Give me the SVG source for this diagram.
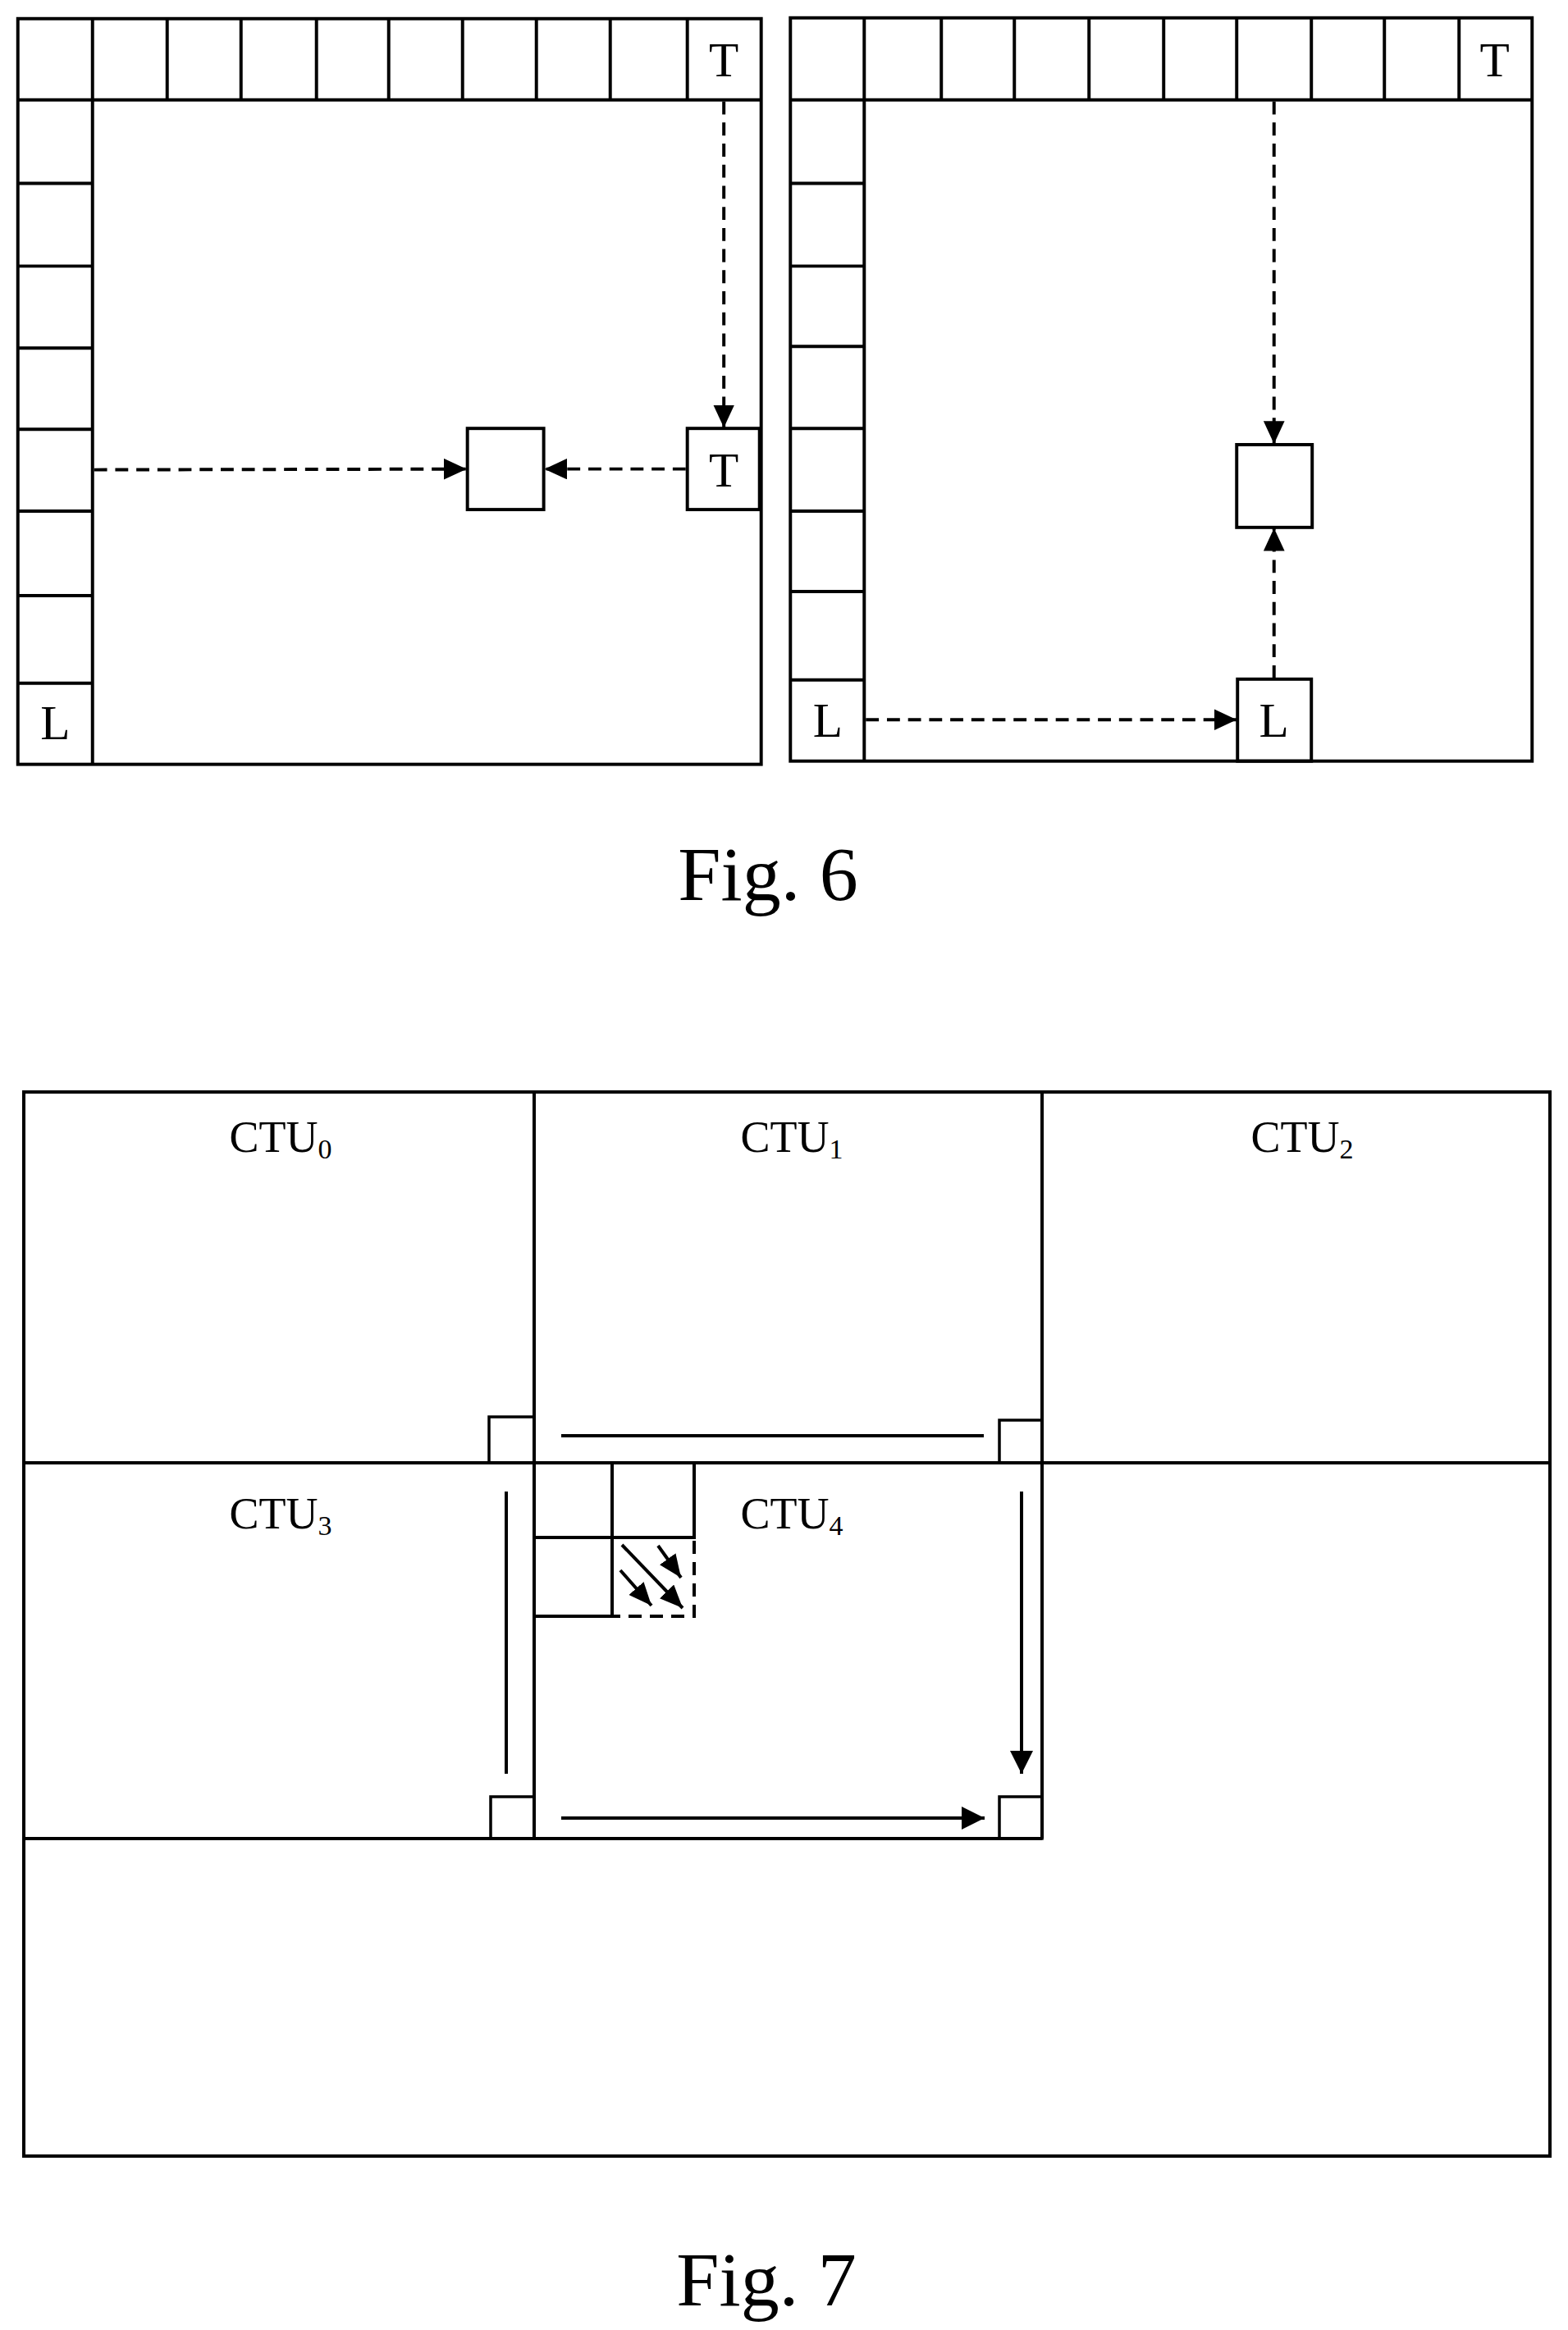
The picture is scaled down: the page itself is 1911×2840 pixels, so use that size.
<svg xmlns="http://www.w3.org/2000/svg" width="1911" height="2840" viewBox="0 0 1911 2840">
<style>
.b{fill:none;stroke:#000;stroke-width:4}
.t{fill:none;stroke:#000;stroke-width:3.5}
.d{fill:none;stroke:#000;stroke-width:4;stroke-dasharray:16 10}
.lb{font-family:"Liberation Serif",serif;font-size:60px;text-anchor:middle;fill:#000}
.ct{font-family:"Liberation Serif",serif;font-size:54px;text-anchor:middle;fill:#000}
.fg{font-family:"Liberation Serif",serif;font-size:94px;text-anchor:middle;fill:#000}
</style>
<defs>
<marker id="a" markerUnits="userSpaceOnUse" markerWidth="30" markerHeight="26" refX="28" refY="13" orient="auto"><path d="M0,0 L28,13 L0,26 Z" fill="#000"/></marker>
<marker id="s" markerUnits="userSpaceOnUse" markerWidth="30" markerHeight="28" refX="28" refY="14" orient="auto"><path d="M0,0 L28,14 L0,28 Z" fill="#000"/></marker>
<marker id="k" markerUnits="userSpaceOnUse" markerWidth="30" markerHeight="24" refX="28" refY="12" orient="auto"><path d="M0,0 L28,12 L0,24 Z" fill="#000"/></marker>
</defs>
<rect width="1911" height="2840" fill="#fff"/>
<g transform="scale(0.989)">
<g id="fig6-left">
<rect class="b" x="22" y="23" width="916" height="919"/>
<path class="b" d="M22,123 H938 M114,23 V942 M206,23 V123 M297,23 V123 M390,23 V123 M479,23 V123 M570,23 V123 M661,23 V123 M752,23 V123 M847,23 V123 M22,226 H114 M22,328 H114 M22,429 H114 M22,529 H114 M22,630 H114 M22,734 H114 M22,842 H114"/>
<rect id="l-cur" class="b" x="576" y="528" width="94" height="100"/>
<rect id="l-T2" class="b" x="847" y="528" width="89" height="100"/>
<text class="lb" x="892" y="94">T</text>
<text class="lb" x="892" y="600">T</text>
<text class="lb" x="68" y="911">L</text>
</g>
<g id="fig6-right">
<rect class="b" x="974" y="22" width="914" height="916"/>
<path class="b" d="M974,123 H1888 M1065,22 V938 M1160,22 V123 M1250,22 V123 M1342,22 V123 M1434,22 V123 M1524,22 V123 M1616,22 V123 M1706,22 V123 M1798,22 V123 M974,226 H1065 M974,328 H1065 M974,427 H1065 M974,528 H1065 M974,630 H1065 M974,729 H1065 M974,838 H1065"/>
<rect id="r-cur" class="b" x="1524" y="548" width="93" height="102"/>
<rect id="r-L2" class="b" x="1525" y="837" width="91" height="101"/>
<text class="lb" x="1842" y="94">T</text>
<text class="lb" x="1020" y="908">L</text>
<text class="lb" x="1570" y="908">L</text>
</g>
<g id="fig6-connectors">
<line class="d" x1="892" y1="125" x2="892" y2="527" stroke-dasharray="12 8" marker-end="url(#a)"/>
<line class="d" x1="116" y1="579" x2="575" y2="578" stroke-dasharray="20 12" marker-end="url(#a)"/>
<line class="d" x1="845" y1="578" x2="671" y2="578" marker-end="url(#a)"/>
<line class="d" x1="1570" y1="125" x2="1570" y2="547" stroke-dasharray="20 12" marker-end="url(#a)"/>
<line class="d" x1="1570" y1="836" x2="1570" y2="651" stroke-dasharray="20 12" marker-end="url(#a)"/>
<line class="d" x1="1067" y1="887" x2="1524" y2="887" stroke-dasharray="12 8" marker-end="url(#a)"/>
</g>
</g>
<text class="fg" x="936" y="1097">Fig. 6</text>
<g id="fig7">
<rect class="b" x="29" y="1331" width="1860" height="1297"/>
<path class="b" d="M29,1783 H1889 M651,1331 V2241 M1270,1331 V2241 M29,2241 H1270"/>
<rect class="t" x="596" y="1727" width="55" height="56"/>
<rect class="t" x="598" y="2190" width="53" height="51"/>
<rect class="t" x="1218" y="1731" width="52" height="52"/>
<rect class="t" x="1218" y="2190" width="52" height="51"/>
<rect class="b" x="651" y="1783" width="95" height="91"/>
<rect class="b" x="746" y="1783" width="100" height="91"/>
<rect class="b" x="651" y="1874" width="95" height="96"/>
<path class="d" d="M746,1874 H846 V1970 H746" stroke-dasharray="14 8"/>
<text class="ct" x="342" y="1404">CTU<tspan font-size="34" dy="8">0</tspan></text>
<text class="ct" x="965" y="1404">CTU<tspan font-size="34" dy="8">1</tspan></text>
<text class="ct" x="1587" y="1404">CTU<tspan font-size="34" dy="8">2</tspan></text>
<text class="ct" x="342" y="1863">CTU<tspan font-size="34" dy="8">3</tspan></text>
<text class="ct" x="965" y="1863">CTU<tspan font-size="34" dy="8">4</tspan></text>
</g>
<g id="fig7-connectors">
<line class="b" x1="684" y1="1750" x2="1199" y2="1750"/>
<line class="b" x1="617" y1="1818" x2="617" y2="2162"/>
<line class="b" x1="1245" y1="1818" x2="1245" y2="2162" marker-end="url(#s)"/>
<line class="b" x1="684" y1="2216" x2="1200" y2="2216" marker-end="url(#s)"/>
<line class="b" x1="758" y1="1883" x2="832" y2="1960" marker-end="url(#k)"/>
<line class="b" x1="802" y1="1884" x2="830" y2="1923" marker-end="url(#k)"/>
<line class="b" x1="756" y1="1914" x2="794" y2="1957" marker-end="url(#k)"/>
</g>
<text class="fg" x="934" y="2810">Fig. 7</text>
</svg>
